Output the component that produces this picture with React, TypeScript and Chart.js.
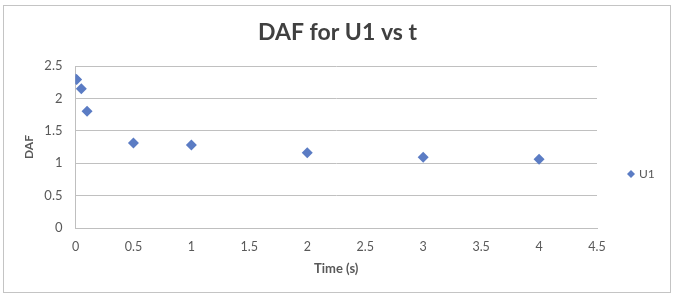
import React, { useEffect, useRef } from "react";
import { Chart, registerables } from "chart.js";

Chart.register(...registerables);

const timeValues = [0, 0.01, 0.05, 0.1, 0.5, 1, 2, 3, 4];
const dafValues = [2.3, 2.29, 2.15, 1.8, 1.31, 1.28, 1.16, 1.09, 1.06];
const seriesName = "U1";
const chartTitle = "DAF for U1 vs t";
const xTitle = "Time (s)";
const yTitle = "DAF";

const FONT = "Lato, 'Open Sans', sans-serif";
const POINT_COLOR = "#5b7cc4";

const framePlugin = {
  id: "frame",
  beforeDraw(chart: any) {
    const ctx = chart.ctx;
    ctx.save();
    ctx.fillStyle = "#ffffff";
    ctx.fillRect(0, 0, chart.width, chart.height);
    ctx.strokeStyle = "#c4c4c4";
    ctx.lineWidth = 1;
    ctx.strokeRect(3.5, 5.5, 667, 287);
    ctx.restore();
  },
  afterDraw(chart: any) {
    const ctx = chart.ctx;
    const ds = chart.data.datasets[0];
    ctx.save();
    const cx = 631;
    const cy = 174;
    const r = 4;
    ctx.fillStyle = ds.backgroundColor;
    ctx.beginPath();
    ctx.moveTo(cx, cy - r);
    ctx.lineTo(cx + r, cy);
    ctx.lineTo(cx, cy + r);
    ctx.lineTo(cx - r, cy);
    ctx.closePath();
    ctx.fill();
    ctx.fillStyle = "#595959";
    ctx.font = `12px ${FONT}`;
    ctx.textBaseline = "middle";
    ctx.textAlign = "left";
    ctx.fillText(ds.label, 639, cy);
    ctx.restore();
  },
};

export default function App() {
  const ref = useRef<HTMLCanvasElement>(null);
  useEffect(() => {
    document.body.style.margin = "0";
    const data = timeValues.map((t, i) => ({ x: t, y: dafValues[i] }));
    const chart = new Chart(ref.current!, {
      type: "scatter",
      data: {
        datasets: [
          {
            label: seriesName,
            data,
            pointStyle: "rectRot",
            pointRadius: 5.5,
            backgroundColor: POINT_COLOR,
            borderColor: POINT_COLOR,
            borderWidth: 0,
          },
        ],
      },
      options: {
        responsive: false,
        animation: false,
        layout: { padding: 0 },
        plugins: {
          legend: { display: false },
          tooltip: { enabled: false },
          title: {
            display: true,
            text: chartTitle,
            color: "#404040",
            font: { family: FONT, size: 23, weight: "bold", lineHeight: 1.2 },
            padding: { top: 19, bottom: 19.4 },
          },
        },
        scales: {
          x: {
            type: "linear",
            min: 0,
            max: 4.5,
            afterFit(scale: any) {
              scale.height = 67;
            },
            ticks: {
              stepSize: 0.5,
              color: "#595959",
              font: { family: FONT, size: 12.5 },
              padding: 11.5,
              maxRotation: 0,
              callback: (v: any) => String(v),
            },
            grid: { display: false, drawTicks: false },
            border: { display: true, color: "#bfbfbf" },
            title: {
              display: true,
              text: xTitle,
              color: "#595959",
              font: { family: FONT, size: 13, weight: "bold", lineHeight: 1.2 },
              padding: { top: 18.2, bottom: 18.2 },
            },
          },
          y: {
            type: "linear",
            min: 0,
            max: 2.5,
            afterFit(scale: any) {
              scale.width = 75.5;
            },
            ticks: {
              stepSize: 0.5,
              color: "#595959",
              font: { family: FONT, size: 13 },
              padding: 13,
              callback: (v: any) => String(v),
            },
            grid: { color: "#c0c0c0", drawTicks: false },
            border: { display: true, color: "#bfbfbf" },
            title: {
              display: true,
              text: yTitle,
              color: "#595959",
              font: { family: FONT, size: 12, weight: "bold", lineHeight: 1.2 },
              padding: { top: 21.8, bottom: 21.8 },
            },
          },
          legendSpace: {
            type: "linear",
            position: "right",
            display: true,
            afterFit(scale: any) {
              scale.width = 78;
            },
            ticks: { display: false },
            grid: { display: false, drawTicks: false },
            border: { display: false },
          },
        },
      },
      plugins: [framePlugin],
    });
    return () => chart.destroy();
  }, []);
  return (
    <div style={{ width: 675, height: 295 }}>
      <canvas ref={ref} width={675} height={295} />
    </div>
  );
}
